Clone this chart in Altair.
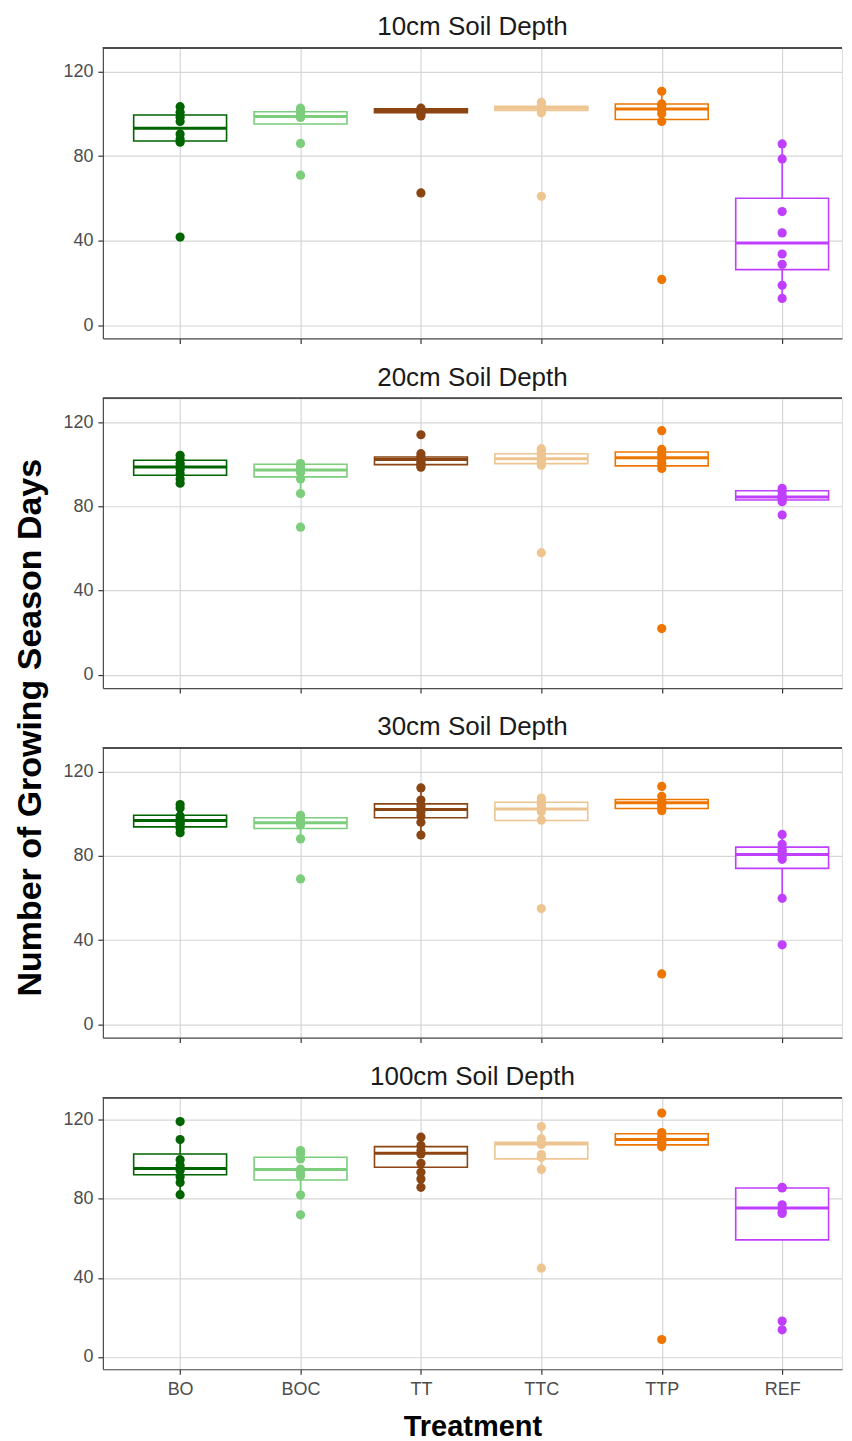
import altair as alt
import pandas as pd

treatments = ["BO", "BOC", "TT", "TTC", "TTP", "REF"]
colors = ["#006400", "#7CCD7C", "#8B4513", "#EEC591", "#EE7600", "#BF3EFF"]
depths = ["10cm Soil Depth", "20cm Soil Depth", "30cm Soil Depth", "100cm Soil Depth"]

# box statistics per depth (rows) and treatment (columns)
Q1 = [
    [87.2, 95.2, 100.6, 101.6, 97.3, 26.3],
    [94.8, 94.0, 99.8, 100.3, 99.2, 83.0],
    [93.8, 93.0, 98.1, 96.8, 102.5, 74.1],
    [92.2, 89.5, 96.0, 100.2, 107.3, 59.2],
]
MED = [
    [93.2, 98.7, 101.6, 102.6, 102.3, 38.9],
    [98.7, 97.2, 102.2, 102.6, 103.1, 84.4],
    [96.8, 95.7, 102.0, 102.3, 105.3, 80.7],
    [95.4, 94.8, 103.0, 107.8, 110.0, 75.3],
]
Q3 = [
    [99.5, 101.0, 102.4, 103.6, 104.7, 60.1],
    [101.9, 100.0, 103.4, 105.0, 105.8, 87.4],
    [99.3, 98.1, 104.7, 105.5, 106.8, 84.2],
    [102.7, 101.0, 106.4, 108.6, 112.9, 85.5],
]
WLO = [
    [86.6, 95.2, 99.0, 100.5, 96.4, 12.7],
    [91.0, 86.1, 98.6, 99.5, 98.0, 82.2],
    [91.0, 88.1, 89.9, 97.0, 101.5, 59.9],
    [82.1, 81.9, 85.8, 94.9, 106.3, 59.2],
]
WHI = [
    [103.4, 102.7, 102.7, 105.5, 110.7, 85.8],
    [104.2, 100.3, 105.0, 107.4, 107.0, 88.5],
    [104.4, 99.3, 112.3, 107.5, 108.3, 90.2],
    [110.0, 104.4, 111.2, 116.6, 113.5, 85.8],
]

PTS_10 = {
    "BO": [103.4, 100.8, 98.4, 96.4, 90.5, 88.1, 86.6, 41.7],
    "BOC": [102.7, 101.5, 100.8, 99.1, 98.5, 98.3, 86.0, 71.0],
    "TT": [102.7, 102.0, 101.5, 101.0, 100.5, 100.0, 99.0, 62.6],
    "TTC": [105.5, 104.0, 103.5, 103.0, 102.5, 102.0, 100.5, 61.0],
    "TTP": [110.7, 104.7, 104.0, 102.5, 102.0, 100.0, 96.4, 21.7],
    "REF": [85.8, 78.7, 53.8, 43.7, 33.7, 28.8, 18.9, 12.7],
}
PTS_20 = {
    "BO": [104.2, 102.5, 100.5, 99.0, 97.5, 95.5, 93.0, 91.0],
    "BOC": [100.3, 99.5, 98.0, 97.0, 96.0, 93.0, 86.1, 70.1],
    "TT": [114.0, 105.0, 103.5, 102.5, 101.5, 100.5, 99.5, 98.6],
    "TTC": [107.4, 106.0, 104.5, 103.0, 102.0, 101.0, 99.5, 58.0],
    "TTP": [115.9, 107.0, 105.5, 104.0, 102.5, 100.5, 98.0, 22.0],
    "REF": [88.5, 87.0, 85.0, 84.5, 84.0, 83.5, 82.2, 75.9],
}
PTS_30 = {
    "BO": [104.4, 102.8, 99.0, 97.5, 96.0, 95.0, 93.0, 91.0],
    "BOC": [99.3, 98.0, 97.0, 96.0, 95.0, 94.8, 88.1, 69.1],
    "TT": [112.3, 106.5, 104.0, 102.5, 101.0, 99.0, 96.0, 89.9],
    "TTC": [107.5, 106.0, 104.5, 103.0, 102.0, 101.0, 97.0, 55.0],
    "TTP": [113.0, 108.3, 106.0, 105.5, 104.5, 103.0, 101.5, 24.0],
    "REF": [90.2, 85.5, 83.0, 82.0, 80.0, 78.4, 59.9, 37.8],
}
PTS_100 = {
    "BO": [119.1, 110.0, 99.8, 96.8, 94.3, 91.2, 88.2, 82.1],
    "BOC": [104.4, 102.7, 100.2, 95.0, 93.5, 91.6, 81.9, 71.9],
    "TT": [111.2, 107.0, 104.5, 102.7, 98.0, 93.4, 90.0, 85.8],
    "TTC": [116.6, 110.4, 108.0, 107.5, 102.4, 101.0, 94.9, 44.9],
    "TTP": [123.4, 113.5, 111.5, 110.0, 109.0, 108.0, 106.3, 8.8],
    "REF": [85.8, 85.5, 77.0, 75.3, 73.5, 72.6, 18.1, 13.7],
}
POINTS = [PTS_10, PTS_20, PTS_30, PTS_100]

heights = [291, 290, 290, 272]
W = 740
STEP = 122.2          # pixels per category (the original is cropped on the right)
FONT = "Liberation Sans"
GRID = "#d6d6d6"
FRAME = "#4d4d4d"

idx = list(range(len(treatments)))
label_expr = "[" + ",".join("'%s'" % t for t in treatments) + "][datum.value]"

color_scale = alt.Scale(domain=treatments, range=colors)
x_scale = alt.Scale(domain=[-0.6, -0.6 + W / STEP], nice=False, zero=False)
y_scale = alt.Scale(domain=[-6.25, 131.25], nice=False, zero=False)
y_axis = alt.Axis(values=[0, 40, 80, 120], title=None, labelFontSize=18, labelColor="#4d4d4d",
                  labelFont=FONT, tickColor="#333333", tickSize=5, tickWidth=1.2, grid=True,
                  gridColor=GRID, gridWidth=1.2, domain=True, domainColor=FRAME,
                  domainWidth=1.2, labelPadding=5)


def panel(i):
    last = i == len(depths) - 1
    common = dict(values=idx, tickColor="#333333", tickSize=5, tickWidth=1.2, grid=True,
                  gridColor=GRID, gridWidth=1.2, domain=True, domainColor=FRAME, domainWidth=1.2)
    if last:
        x_axis = alt.Axis(title="Treatment", labelExpr=label_expr, labelFontSize=18,
                          labelColor="#4d4d4d", labelFont=FONT, labelAngle=0, labelPadding=6,
                          titleFontSize=29, titleFont=FONT, titleFontWeight="bold",
                          titleColor="black", titlePadding=14, **common)
    else:
        x_axis = alt.Axis(title=None, labels=False, **common)

    box_df = pd.DataFrame({"trt": treatments, "i": idx, "q1": Q1[i], "med": MED[i], "q3": Q3[i]})
    wrows = []
    for j, t in enumerate(treatments):
        wrows.append({"trt": t, "i": j, "lo": WLO[i][j], "hi": Q1[i][j]})
        wrows.append({"trt": t, "i": j, "lo": Q3[i][j], "hi": WHI[i][j]})
    whisk_df = pd.DataFrame(wrows)
    prows = [{"trt": t, "i": j, "val": v} for j, t in enumerate(treatments) for v in POINTS[i][t]]
    pts_df = pd.DataFrame(prows)

    X = alt.X("i:Q", scale=x_scale, axis=x_axis)
    col = alt.Color("trt:N", scale=color_scale, legend=None)

    whisk = alt.Chart(whisk_df).mark_rule(strokeWidth=1.6).encode(
        x=X, y=alt.Y("lo:Q", scale=y_scale, axis=y_axis), y2="hi:Q", color=col)
    box = alt.Chart(box_df).mark_bar(fill="white", strokeWidth=1.6, size=93, opacity=1).encode(
        x=X, y=alt.Y("q1:Q", scale=y_scale, axis=y_axis), y2="q3:Q",
        stroke=alt.Stroke("trt:N", scale=color_scale, legend=None))
    med = alt.Chart(box_df).mark_tick(orient="horizontal", thickness=3, size=93, opacity=1).encode(
        x=X, y=alt.Y("med:Q", scale=y_scale, axis=y_axis), color=col)
    pts = alt.Chart(pts_df).mark_circle(size=85, opacity=1).encode(
        x=X, y=alt.Y("val:Q", scale=y_scale, axis=y_axis), color=col)
    # top edge of the panel frame
    top = alt.Chart(box_df).mark_rule(color=FRAME, strokeWidth=1.2).encode(
        x=alt.value(0), x2=alt.value(W), y=alt.value(0))

    return alt.layer(whisk, box, med, pts, top).properties(
        width=W, height=heights[i],
        title=alt.TitleParams(text=depths[i], fontSize=26, font=FONT, fontWeight="normal",
                              color="#1a1a1a", anchor="middle", offset=7))


chart = alt.vconcat(*[panel(i) for i in range(len(depths))], spacing=60, bounds="flush").properties(
    title=alt.TitleParams(text="Number of Growing Season Days", orient="left", anchor="middle",
                          fontSize=34, font=FONT, fontWeight="bold", color="black", offset=14),
    padding={"left": 6, "top": 4, "right": 0, "bottom": 0},
).configure_view(stroke=FRAME, strokeWidth=1.2).configure(background="white")

chart.save("out.html", embed_options={"renderer": "svg", "actions": False})
